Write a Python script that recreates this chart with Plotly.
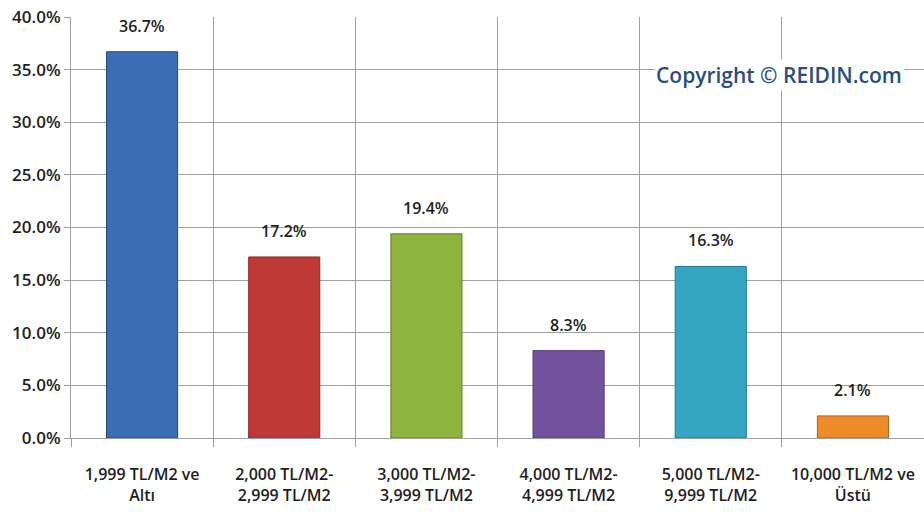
import plotly.graph_objects as go

categories = ["1,999 TL/M2 ve<br>Altı", "2,000 TL/M2-<br>2,999 TL/M2", "3,000 TL/M2-<br>3,999 TL/M2",
              "4,000 TL/M2-<br>4,999 TL/M2", "5,000 TL/M2-<br>9,999 TL/M2", "10,000 TL/M2 ve<br>Üstü"]
values = [0.367, 0.172, 0.194, 0.083, 0.163, 0.021]
colors = ["#3A6DB3", "#BF3A36", "#8DB43D", "#7353A0", "#34A6C4", "#EE8C2A"]
edges = ["#24497F", "#8A2522", "#617E26", "#4E3671", "#21758C", "#B0601A"]
y_ticks = [0, 0.05, 0.10, 0.15, 0.20, 0.25, 0.30, 0.35, 0.40]

font_family = "Open Sans, Noto Sans, sans-serif"
txt_color = "#1E1E1E"

fig = go.Figure()
fig.add_trace(go.Bar(
    x=categories, y=values,
    marker=dict(color=colors, line=dict(color=edges, width=1)),
    width=0.5,
    cliponaxis=False,
    hoverinfo="skip",
))

for c, v in zip(categories, values):
    fig.add_annotation(
        x=c, y=v, text=f"{v*100:.1f}%", showarrow=False,
        yanchor="bottom", yshift=13,
        font=dict(family=font_family, size=16, color=txt_color, weight=600),
    )

fig.add_annotation(
    text="Copyright © REIDIN.com", xref="paper", yref="paper",
    x=0.976, y=0.862, xanchor="right", yanchor="middle", showarrow=False,
    bgcolor="white",
    font=dict(family=font_family, size=21, color="#2A4E7C", weight=600),
)

fig.update_layout(
    width=924, height=520,
    margin=dict(l=71, r=0, t=17, b=82),
    plot_bgcolor="white", paper_bgcolor="white",
    showlegend=False,
    font=dict(family=font_family, size=16, color=txt_color),
    xaxis=dict(
        type="category", tickson="boundaries", showgrid=True, gridcolor="#A0A0A0", gridwidth=1,
        ticks="outside", ticklen=8, tickcolor="#A0A0A0",
        showline=True, linecolor="#A0A0A0", automargin=False,
        ticklabelstandoff=22, ticklabeloverflow="allow",
        tickfont=dict(family=font_family, size=16, color=txt_color, weight=600),
    ),
    yaxis=dict(
        range=[0, 0.40], tickvals=y_ticks, tickformat=".1%",
        showgrid=True, gridcolor="#A0A0A0", gridwidth=1,
        ticks="outside", ticklen=6, tickcolor="#A0A0A0",
        showline=True, linecolor="#A0A0A0", zeroline=False, automargin=False,
        ticklabeloverflow="allow",
        tickfont=dict(family=font_family, size=17, color=txt_color, weight=600),
    ),
)

fig.write_html("out.html", config={"displayModeBar": False},
               post_script="document.body.style.margin='0';document.body.style.overflow='hidden';")
